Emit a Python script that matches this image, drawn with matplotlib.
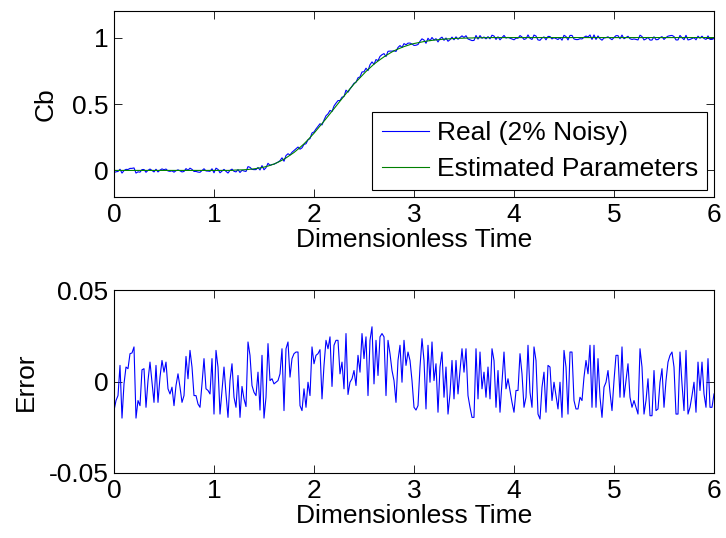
import numpy as np
import matplotlib
matplotlib.use("Agg")
import matplotlib.pyplot as plt

plt.rcParams['font.family'] = ['Liberation Sans', 'DejaVu Sans']
plt.rcParams['axes.unicode_minus'] = False

# time axis (dimensionless), step 0.02
t = np.linspace(0.0, 6.0, 301)

# Estimated-parameter breakthrough curve
est_head = [0.0] * 60 + [0.002, 0.003, 0.003, 0.004, 0.004]
est_mid = [
    0.005, 0.006, 0.007, 0.009, 0.010,
    0.012, 0.014, 0.017, 0.019, 0.022,
    0.025, 0.029, 0.033, 0.038, 0.043,
    0.048, 0.055, 0.062, 0.069, 0.077,
    0.085, 0.094, 0.104, 0.114, 0.124,
    0.135, 0.147, 0.160, 0.173, 0.186,
    0.200, 0.215, 0.231, 0.247, 0.263,
    0.280, 0.298, 0.316, 0.334, 0.352,
    0.370, 0.389, 0.408, 0.427, 0.446,
    0.465, 0.484, 0.503, 0.522, 0.541,
    0.560, 0.578, 0.596, 0.614, 0.632,
    0.650, 0.666, 0.683, 0.699, 0.715,
    0.730, 0.745, 0.759, 0.773, 0.787,
    0.800, 0.812, 0.823, 0.834, 0.845,
    0.855, 0.865, 0.874, 0.883, 0.892,
    0.900, 0.907, 0.914, 0.920, 0.926,
    0.932, 0.937, 0.942, 0.947, 0.951,
    0.955, 0.958, 0.961, 0.964, 0.967,
    0.970, 0.972, 0.975, 0.977, 0.979,
    0.981, 0.982, 0.984, 0.985, 0.987,
    0.988, 0.989, 0.990, 0.991, 0.992,
    0.993, 0.994, 0.994, 0.995, 0.995,
    0.996, 0.996, 0.997, 0.997, 0.997,
    0.998, 0.998, 0.998, 0.999, 0.999,
    0.999, 0.999, 0.999,
]
est_tail = [1.0] * 113
cb_estimated = np.array(est_head + est_mid + est_tail)

# Error (Real - Estimated)
error = np.array([
    -0.0159, -0.0104, -0.0077, 0.0088, -0.0200, -0.0013, 0.0079, 0.0070, 0.0152, 0.0156,
    0.0189, -0.0200, -0.0104, -0.0132, 0.0064, 0.0070, -0.0141, 0.0005, 0.0106, -0.0004,
    -0.0114, 0.0088, -0.0114, 0.0024, 0.0115, 0.0051, 0.0106, -0.0040, -0.0068, -0.0031,
    -0.0132, -0.0022, 0.0042, -0.0031, -0.0114, -0.0077, 0.0137, 0.0015, 0.0170, 0.0079,
    -0.0077, -0.0077, -0.0123, -0.0141, -0.0013, 0.0125, -0.0040, -0.0049, -0.0068, 0.0125,
    -0.0178, 0.0170, 0.0079, -0.0178, -0.0049, 0.0079, -0.0068, -0.0196, 0.0005, 0.0097,
    -0.0086, -0.0141, 0.0033, -0.0196, -0.0027, -0.0095, -0.0137, 0.0216, 0.0143, -0.0022,
    -0.0059, -0.0077, 0.0051, -0.0156, 0.0143, -0.0200, -0.0086, 0.0207, 0.0005, 0.0015,
    -0.0013, -0.0004, 0.0005, 0.0042, 0.0179, -0.0159, 0.0179, 0.0216, 0.0024, 0.0125,
    0.0152, 0.0161, 0.0161, -0.0132, -0.0159, -0.0040, -0.0141, -0.0004, -0.0077, 0.0189,
    0.0097, 0.0143, 0.0152, 0.0174, -0.0095, 0.0088, 0.0225, 0.0179, 0.0244, -0.0027,
    0.0198, 0.0225, 0.0225, 0.0042, 0.0106, -0.0040, 0.0262, -0.0071, -0.0004, 0.0015,
    0.0060, -0.0022, 0.0143, 0.0051, 0.0262, 0.0125, 0.0244, -0.0077, 0.0225, 0.0299,
    -0.0013, 0.0225, 0.0033, 0.0244, 0.0262, 0.0244, -0.0077, 0.0225, 0.0152, 0.0060,
    0.0005, -0.0114, 0.0115, 0.0198, -0.0004, 0.0225, 0.0088, 0.0161, 0.0115, 0.0005,
    -0.0141, -0.0156, -0.0132, 0.0079, 0.0234, 0.0115, -0.0150, 0.0198, -0.0004, 0.0216,
    0.0005, 0.0097, -0.0168, 0.0079, 0.0161, -0.0086, 0.0079, -0.0178, -0.0068, 0.0115,
    -0.0095, 0.0115, -0.0068, 0.0060, 0.0179, 0.0051, 0.0179, -0.0077, -0.0141, -0.0196,
    -0.0196, 0.0179, -0.0095, 0.0161, -0.0040, 0.0051, -0.0086, 0.0079, -0.0095, 0.0179,
    0.0115, -0.0141, 0.0060, -0.0168, -0.0004, 0.0161, -0.0040, 0.0015, -0.0049, -0.0114,
    -0.0168, -0.0049, -0.0049, 0.0152, 0.0042, -0.0141, -0.0086, 0.0198, -0.0059, -0.0141,
    0.0189, 0.0115, -0.0178, -0.0205, -0.0031, 0.0051, -0.0168, 0.0088, 0.0079, -0.0104,
    -0.0004, -0.0077, -0.0150, -0.0004, -0.0196, 0.0170, 0.0079, -0.0178, 0.0161, 0.0161,
    -0.0104, -0.0150, -0.0150, -0.0086, -0.0104, 0.0024, 0.0115, 0.0042, 0.0198, -0.0141,
    0.0198, -0.0141, 0.0125, -0.0086, -0.0196, -0.0031, -0.0004, 0.0060, -0.0059, -0.0159,
    0.0005, 0.0143, 0.0143, -0.0086, 0.0189, -0.0086, 0.0005, 0.0097, -0.0086, -0.0141,
    -0.0104, -0.0141, -0.0178, 0.0179, 0.0079, -0.0178, -0.0104, 0.0015, -0.0187, -0.0187,
    0.0060, -0.0159, -0.0150, -0.0004, 0.0070, -0.0141, 0.0005, 0.0106, 0.0143, 0.0161,
    0.0079, -0.0178, -0.0178, 0.0161, -0.0013, -0.0159, 0.0170, -0.0178, -0.0141, -0.0077,
    -0.0004, -0.0168, 0.0106, -0.0049, 0.0106, -0.0068, -0.0141, 0.0125, -0.0141, -0.0141,
    -0.0068,
])

cb_real = cb_estimated + error

x_ticks = [0, 1, 2, 3, 4, 5, 6]
top_yticks = [0, 0.5, 1]
top_ylabels = ["0", "0.5", "1"]
bot_yticks = [-0.05, 0, 0.05]
bot_ylabels = ["-0.05", "0", "0.05"]

FS = 19
fig = plt.figure(figsize=(7.26, 5.38), dpi=100)
ax1 = fig.add_axes([114 / 726, 1 - 197 / 538, 600 / 726, 186 / 538])
ax2 = fig.add_axes([114 / 726, 1 - 473 / 538, 600 / 726, 183 / 538])

def style(ax):
    ax.tick_params(direction='in', top=True, right=True, labelsize=FS,
                   length=6, width=0.6, pad=4)
    for s in ax.spines.values():
        s.set_linewidth(0.8)
    ax.set_xlim(0, 6)
    ax.set_xticks(x_ticks)
    ax.set_xticklabels([str(v) for v in x_ticks])

ax1.plot(t, cb_real, color=(0, 0, 1), lw=0.8, label='Real (2% Noisy)')
ax1.plot(t, cb_estimated, color=(0, 0.5, 0), lw=0.8, label='Estimated Parameters')
style(ax1)
ax1.set_ylim(-0.2, 1.2)
ax1.set_yticks(top_yticks)
ax1.set_yticklabels(top_ylabels)
ax1.set_xlabel('Dimensionless Time', fontsize=FS, labelpad=1)
ax1.set_ylabel('Cb', fontsize=FS, labelpad=10)
leg = ax1.legend(loc='lower right', fontsize=FS, fancybox=False, framealpha=1,
                 edgecolor='black', handlelength=1.8, borderaxespad=0.25,
                 handletextpad=0.3, labelspacing=0.45, borderpad=0.35)
leg.get_frame().set_linewidth(0.8)

ax2.plot(t, error, color=(0, 0, 1), lw=0.8)
style(ax2)
ax2.set_ylim(-0.05, 0.05)
ax2.set_yticks(bot_yticks)
ax2.set_yticklabels(bot_ylabels)
ax2.set_xlabel('Dimensionless Time', fontsize=FS, labelpad=1)
ax2.set_ylabel('Error', fontsize=FS, labelpad=8)

fig.savefig('out.png', dpi=100)
